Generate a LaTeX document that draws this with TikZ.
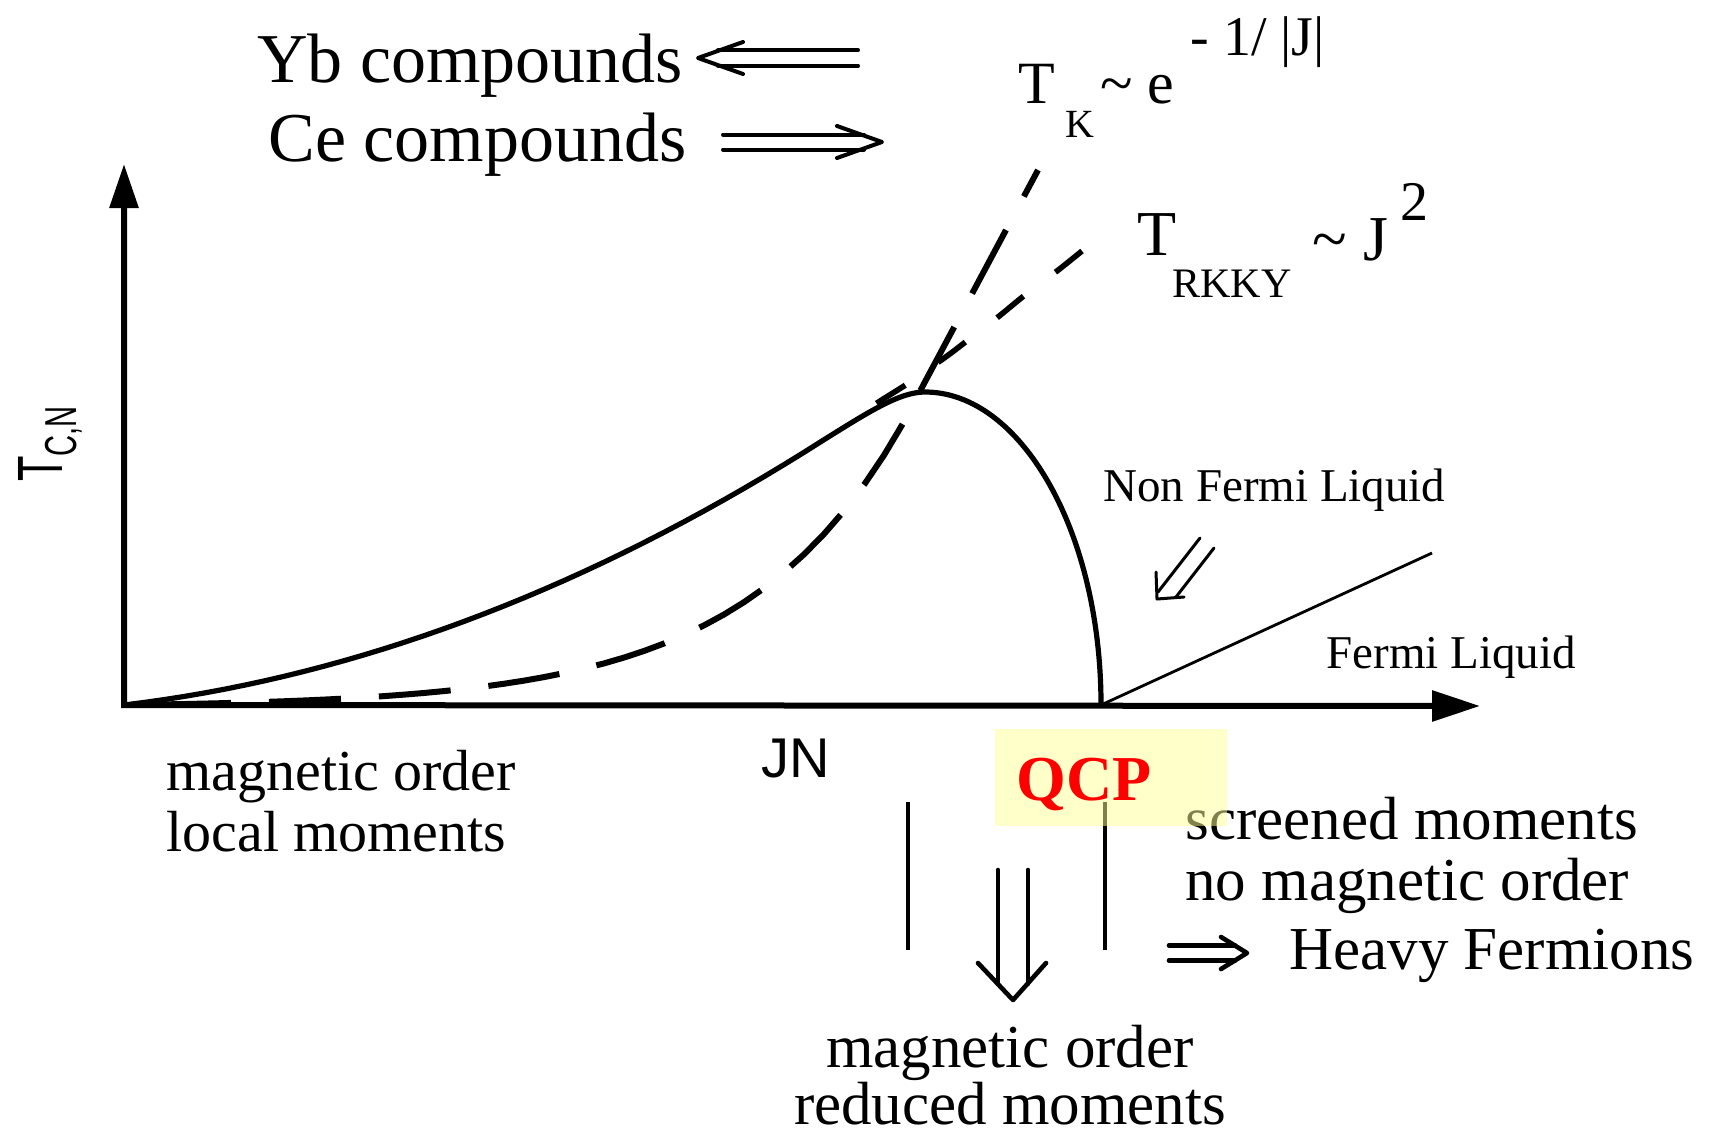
\documentclass[tikz,border=0pt]{standalone}
\usepackage{fontspec}
\usepackage{graphicx}
\setmainfont{Liberation Serif}
\setsansfont{Liberation Sans}
\usetikzlibrary{arrows.meta,calc}
\definecolor{qcpred}{RGB}{255,0,0}
\definecolor{qcpbg}{RGB}{255,255,150}
\tikzset{
  axisline/.style={
    line width=3pt, line join=miter,
    {Triangle[length=22pt,width=14pt]}-{Triangle[length=24pt,width=15pt]}
  },
  tcurve/.style={line width=2.6pt, line join=round},
  tkline/.style={line width=3pt, dash pattern=on 36pt off 19pt, dash phase=21pt},
  rkline/.style={line width=2.8pt, dash pattern=on 17pt off 20pt},
  thinline/.style={line width=1.8pt},
  dblshaft/.style={line width=2pt, line cap=round},
  dblhead/.style={dblshaft, line join=round},
  boldshaft/.style={line width=2.3pt, line cap=round, line join=round},
  ttl/.style={font=\fontsize{35}{40}\selectfont, inner sep=0pt, anchor=base west},
  txt/.style={font=\fontsize{30.5}{34}\selectfont, inner sep=0pt, anchor=base west},
  txtl/.style={font=\fontsize{29}{33}\selectfont, inner sep=0pt, anchor=base west},
  sml/.style={font=\fontsize{23.5}{27}\selectfont, inner sep=0pt, anchor=base west},
  frm/.style={font=\fontsize{30}{34}\selectfont, inner sep=0pt, anchor=base west},
  frmsub/.style={font=\fontsize{20}{24}\selectfont, inner sep=0pt, anchor=base west},
  frmsup/.style={font=\fontsize{28}{32}\selectfont, inner sep=0pt, anchor=base west},
  sanslbl/.style={font=\sffamily\fontsize{28}{32}\selectfont, inner sep=0pt, anchor=base west},
  qcpbox/.style={fill=qcpbg, fill opacity=0.5, draw=none, inner sep=0pt,
    minimum width=116pt, minimum height=48.5pt},
  qcplbl/.style={font=\bfseries\fontsize{32}{36}\selectfont, text=qcpred,
    inner sep=0pt, anchor=base west}
}

\begin{document}
\begin{tikzpicture}[x=0.5pt, y=-0.5pt]
  \useasboundingbox (0,0) rectangle (1716,1135);

  % axes
  \coordinate (O) at (124,705);
  \coordinate (ytip) at (124,164);
  \coordinate (xtip) at (1480,706);
  \draw[axisline] (ytip) -- (O) -- (xtip);
  \node[sanslbl, font=\sffamily\fontsize{32}{36}\selectfont, rotate=90] (tcn) at (62,482)
    {\scalebox{0.65}[1]{T\textsubscript{C,N}}};
  \node[sanslbl] (jn) at (761,777) {JN};

  % T_K curve
  \coordinate (tktop) at (1038,170);
  \draw[tkline] (tktop) -- plot[domain=800:0, samples=41]
    ({124+\x}, {705-2.18*(exp(\x/160)-1)});
  % T_RKKY curve
  \draw[rkline] plot[smooth, tension=0.5] coordinates {
    (1082,251) (1057,271) (1025,295) (998,317) (968,340) (947,356)
    (907,384) (877,403) (850,422)};
  % ordering temperature
  \coordinate (peak) at (925,392);
  \coordinate (qcppt) at (1101,705);
  \draw[tcurve] plot[domain=0:700, samples=36]
      ({124+\x}, {705-0.12*\x-3.7*(\x/100)*(\x/100)})
    .. controls (870,411) and (900,392) .. (peak)
    .. controls (1020,392) and (1101,530) .. (qcppt);
  \coordinate (flend) at (1432,553);
  \draw[thinline, line width=1.4pt] (qcppt) -- (flend);

  % formulas
  \node[frm] (tkT) at (1018,103) {T};
  \node[frmsub] (tkK) at (1065,137) {K};
  \node[frm] (tkE) at (1100,103) {\textasciitilde{} e};
  \node[frmsup] (tkX) at (1190,55) {- 1/ |J|};
  \node[frm, font=\fontsize{32}{36}\selectfont] (rkT) at (1137,255) {T};
  \node[frmsub, font=\fontsize{21}{25}\selectfont] (rkS) at (1172,297) {RKKY};
  \node[frm, font=\fontsize{32}{36}\selectfont] (rkJ) at (1312,260) {\textasciitilde{} J};
  \node[frmsup] (rkX) at (1400,220) {2};

  % compounds
  \node[ttl] (yb) at (257,82) {Yb compounds};
  \node[ttl] (ce) at (268,161) {Ce compounds};
  \coordinate (ybtip) at (698,58);
  \foreach \d in {-7.7,7.7}
    \draw[dblshaft] ($(ybtip)+(20,\d)$) -- ($(ybtip)+(160,\d)$);
  \draw[dblhead] ($(ybtip)+(45,-16)$) -- (ybtip) -- ($(ybtip)+(45,16)$);
  \coordinate (cetip) at (882,142);
  \foreach \d in {-7.5,7.5}
    \draw[dblshaft] ($(cetip)+(-159,\d)$) -- ($(cetip)+(-18,\d)$);
  \draw[dblhead] ($(cetip)+(-45,-16)$) -- (cetip) -- ($(cetip)+(-45,16)$);

  % liquids
  \node[sml] (nfl) at (1103,501) {Non Fermi Liquid};
  \node[sml] (fl) at (1326,668) {Fermi Liquid};
  \coordinate (nfltip) at (1157,599);
  \draw[dblshaft, line width=1.5pt] ($(nfltip)+(43,-61)$) -- ($(nfltip)+(1,-7)$);
  \draw[dblshaft, line width=1.5pt] ($(nfltip)+(57,-51)$) -- ($(nfltip)+(19,-2)$);
  \draw[dblhead, line width=1.5pt] ($(nfltip)+(-1,-27)$) -- (nfltip) -- ($(nfltip)+(27,-2)$);

  % regimes
  \node[txtl] (magl) at (166,790) {magnetic order};
  \node[txtl] (locl) at (166,851) {local moments};
  \node[txt] (scr) at (1185,839) {screened moments};
  \node[txt] (nomag) at (1185,900) {no magnetic order};
  \node[txt] (hf) at (1289,969) {Heavy Fermions};
  \node[txt, anchor=base] (magb) at (1010,1067) {magnetic order};
  \node[txt, anchor=base] (redm) at (1010,1124) {reduced moments};
  \foreach \n/\x in {vl/908, vr/1105} {
    \coordinate (\n top) at (\x,802);
    \coordinate (\n bot) at (\x,950);
    \draw[thinline] (\n top) -- (\n bot);
  }
  \coordinate (hftip) at (1247,953);
  \foreach \d in {-7.5,7.5}
    \draw[boldshaft] ($(hftip)+(-78,\d)$) -- ($(hftip)+(-12,\d)$);
  \draw[boldshaft] ($(hftip)+(-26,-16)$) -- (hftip) -- ($(hftip)+(-26,16)$);
  \coordinate (dntip) at (1013,1000);
  \foreach \d in {-15,15}
    \draw[boldshaft] ($(dntip)+(\d,-130)$) -- ($(dntip)+(\d,-16)$);
  \draw[boldshaft] ($(dntip)+(-35,-37)$) -- (dntip) -- ($(dntip)+(33,-37)$);

  % quantum critical point
  \node[qcpbox] (qcpbg) at (1111,777.5) {};
  \node[qcplbl] (qcp) at (1016,800) {QCP};
\end{tikzpicture}
\end{document}
